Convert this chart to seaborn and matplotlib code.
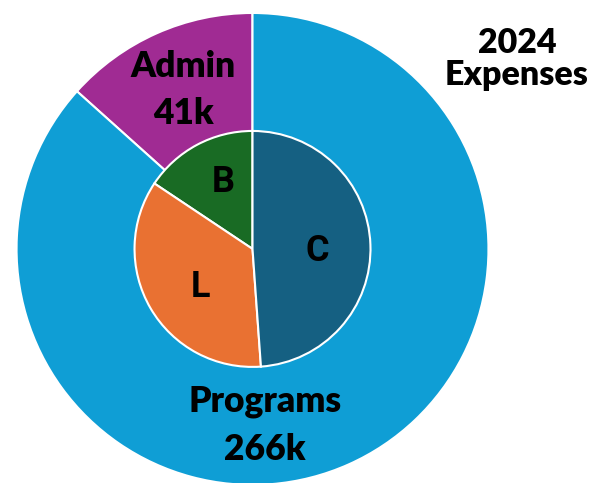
import matplotlib.pyplot as plt
import seaborn as sns

# outer ring: expense type (k)
outer_labels = ["Admin", "Programs"]
outer_values = [41, 266]
outer_colors = ["#A02B93", "#0F9ED5"]

# inner pie: breakdown
inner_labels = ["B", "L", "C"]
inner_values = [48, 109, 150]
inner_colors = ["#196B24", "#E97132", "#156082"]

sns.set_theme(style="white")
plt.rcParams["font.family"] = ["Lato", "DejaVu Sans"]
plt.rcParams["text.color"] = "black"

fig = plt.figure(figsize=(6.02, 4.83), dpi=100)
ax = fig.add_axes([0, 0, 1, 1])

ax.pie(outer_values, colors=outer_colors, startangle=90, counterclock=True,
       radius=1.0, wedgeprops=dict(edgecolor="white", linewidth=1.5))
ax.pie(inner_values, colors=inner_colors, startangle=90, counterclock=True,
       radius=0.5, wedgeprops=dict(edgecolor="white", linewidth=1.5))

# inner letters
inner_pos = [(-0.125, 0.242), (-0.222, -0.203), (0.273, -0.051)]
for lab, (x, y) in zip(inner_labels, inner_pos):
    ax.text(x, y, lab, ha="center", va="baseline", fontsize=26,
            fontweight="bold", family=["Roboto", "DejaVu Sans"])

# outer labels, one line at a time
big = dict(ha="center", va="baseline", fontsize=25.5, fontweight="heavy")
ax.text(-0.294, 0.729, outer_labels[0], **big)
ax.text(-0.294, 0.530, f"{outer_values[0]}k", **big)
ax.text(0.053, -0.691, outer_labels[1], **big)
ax.text(0.053, -0.894, f"{outer_values[1]}k", **big)

title = dict(ha="center", va="baseline", fontsize=24.5, fontweight="heavy")
ax.text(1.121, 0.831, "2024", **title)
ax.text(1.121, 0.695, "Expenses", **title)

ax.set_xlim(-1.070, 1.481)
ax.set_ylim(-0.992, 1.055)
ax.set_aspect("equal")
ax.axis("off")

fig.savefig("out.png", dpi=100)
